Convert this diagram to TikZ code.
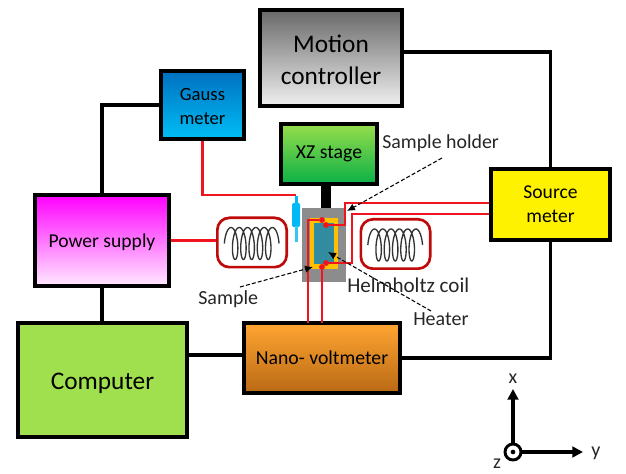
\documentclass[tikz,border=0pt]{standalone}
\usepackage{fontspec}
\setmainfont{Carlito}
\usetikzlibrary{arrows.meta,calc}
\definecolor{rd}{RGB}{240,20,30}
\definecolor{coilred}{RGB}{192,10,10}
\definecolor{gtop}{RGB}{105,105,105}
\definecolor{gbot}{RGB}{240,240,240}
\definecolor{stop}{RGB}{150,222,75}
\definecolor{sbot}{RGB}{10,176,70}
\definecolor{btop}{RGB}{0,112,192}
\definecolor{bbot}{RGB}{0,190,245}
\definecolor{mtop}{RGB}{255,0,255}
\definecolor{mmid}{RGB}{255,70,255}
\definecolor{mbot}{RGB}{255,235,255}
\definecolor{otop}{RGB}{255,165,50}
\definecolor{obot}{RGB}{185,105,20}
\definecolor{comp}{RGB}{160,224,78}
\definecolor{gold}{RGB}{255,192,0}
\definecolor{teal2}{RGB}{50,140,160}
\definecolor{probec}{RGB}{0,185,245}
\def\u{0.75pt}
\tikzset{
  px/.style={x=0.75pt,y=-0.75pt},
  box/.style={draw=black,line width=2.3pt,inner sep=0pt,align=center},
  wire/.style={draw=black,line width=2.3pt},
  redw/.style={draw=rd,line width=1.9pt},
  dot/.style={circle,fill=rd,inner sep=0pt,minimum size=4.4pt},
  coilbox/.style={draw=coilred,line width=2pt,rounded corners=9pt,inner sep=0pt,minimum width=52pt,minimum height=37pt},
  coilline/.style={draw=black!80,line width=1pt},
  lead/.style={draw=black,line width=0.8pt,dash pattern=on 3pt off 1.6pt,-{Latex[length=6pt,width=5.5pt]}},
  lbl/.style={inner sep=0pt,text=black!85},
  axis/.style={draw=black,line width=2.3pt,-{Triangle[length=8pt,width=8pt]}}
}
\begin{document}
\begin{tikzpicture}[px]
\useasboundingbox (0,0) rectangle (626,474);
% boxes
\node[box,top color=gtop,bottom color=gbot,minimum width=142*\u,minimum height=96*\u,font=\fontsize{19pt}{24pt}\selectfont] (motion) at (331,58) {\rule{0pt}{16pt}Motion\\controller};
\node[box,top color=stop,bottom color=sbot,minimum width=96*\u,minimum height=60*\u,font=\fontsize{14.8pt}{17pt}\selectfont] (stage) at (329,154) {XZ stage};
\node[box,top color=btop,bottom color=bbot,minimum width=83*\u,minimum height=68*\u,font=\fontsize{14pt}{18pt}\selectfont] (gauss) at (202.5,105) {\rule{0pt}{12pt}Gauss\\meter};
\node[box,fill=yellow,minimum width=119*\u,minimum height=71*\u,font=\fontsize{14.7pt}{18pt}\selectfont] (source) at (550.5,204.5) {Source\\meter};
\node[box,top color=mtop,middle color=mmid,bottom color=mbot,minimum width=134*\u,minimum height=91*\u,font=\fontsize{14.7pt}{17pt}\selectfont] (power) at (102,240.5) {\rule{0pt}{13pt}Power supply};
\node[box,fill=comp,minimum width=169*\u,minimum height=114*\u,font=\fontsize{19pt}{23pt}\selectfont] (computer) at (102.5,380) {\rule{0pt}{17pt}Computer};
\node[box,top color=otop,bottom color=obot,minimum width=156*\u,minimum height=70*\u,font=\fontsize{14.8pt}{17pt}\selectfont] (nano) at (322,358) {Nano- voltmeter};
% black wires
\coordinate (mc) at ($(motion.east)+(0,-6)$);
\coordinate (cn) at (computer.east|-0,355);
\coordinate (nc) at (nano.west|-0,355);
\draw[wire] (gauss.west) -| (power.north);
\draw[wire] (power.south) -- (computer.north-|power.south);
\draw[wire] (cn) -- (nc);
\draw[wire] (nano.east) -| (source.south);
\draw[wire] (source.north) |- (mc);
\coordinate (st) at (326,184);
\draw[draw=black,line width=7.5pt] (st) -- (326,209);
% coil boxes
\node[coilbox] (coilL) at (252,242.5) {};
\node[coilbox] (coilR) at (395.5,244) {};
\foreach \c in {coilL,coilR}{
  \draw[coilline,shift={(\c.center)}] plot[smooth,samples=220,domain=-90:1890] ({-21+0.023*\x+4.6*sin(\x)},{1-16*cos(\x)});
}
% sample assembly
\node[fill=black!45,minimum width=44*\u,minimum height=74*\u,inner sep=0pt] (holder) at (324,245) {};
\node[fill=gold,minimum width=28*\u,minimum height=51*\u,inner sep=0pt] (sample) at (324,243.5) {};
\node[fill=teal2,minimum width=20*\u,minimum height=41*\u,inner sep=0pt] (heater) at (324,243.5) {};
% probe
\node[fill=probec,minimum width=8*\u,minimum height=24*\u,rounded corners=1pt,inner sep=0pt] (probe) at (296,215) {};
\fill[probec] (294.5,196) rectangle (297.5,204);
\fill[probec!80!white] (294.5,226) rectangle (297.5,242);
% gauss red wire
\coordinate (pt) at (296,195);
\draw[redw] (gauss.south) |- (pt);
\draw[redw] (power.east) -- (coilL.west|-power.east);
% dots
\node[dot] (d1) at (322,220) {};
\node[dot] (d2) at (326,225) {};
\node[dot] (d3) at (326,263) {};
\node[dot] (d4) at (322,267) {};
% source red wires
\coordinate (s1) at (source.west|-0,203);
\coordinate (s2) at (source.west|-0,214);
\draw[redw] (s1) -- (345,203) |- (d2);
\draw[redw] (s2) -- (352,214) |- (d3);
\coordinate (n1) at (308,323);
\coordinate (n2) at (322,323);
\draw[redw] (n1) |- (d1);
\draw[redw] (n2) -- (d4);
% labels
\node[lbl,anchor=west,font=\fontsize{14.9pt}{17pt}\selectfont] (tholder) at (382,143) {Sample holder};
\node[lbl,anchor=west,font=\fontsize{15.8pt}{18pt}\selectfont] (thelm) at (347,285) {Helmholtz coil};
\node[lbl,anchor=west,font=\fontsize{15pt}{17pt}\selectfont] (theat) at (413,319) {Heater};
\node[lbl,anchor=west,font=\fontsize{15pt}{17pt}\selectfont] (tsamp) at (198,299) {Sample};
% leader arrows
\coordinate (a1) at (442,158);
\coordinate (a1e) at (347,211);
\coordinate (a2) at (240,287);
\coordinate (a2e) at (313,267);
\coordinate (a3) at (431,311);
\coordinate (a3e) at (328,252);
\draw[lead] (a1) -- (a1e);
\draw[lead] (a2) -- (a2e);
\draw[lead] (a3) -- (a3e);
% axes
\node[circle,draw=black,line width=2.2pt,minimum size=12pt,inner sep=0pt] (origin) at (513,452) {};
\node[circle,fill=black,minimum size=3.5pt,inner sep=0pt] (odot) at (513,452) {};
\coordinate (xt) at (513,389);
\coordinate (yt) at (583,452);
\draw[axis] (origin) -- (xt);
\draw[axis] (origin) -- (yt);
\node[lbl,font=\fontsize{15pt}{17pt}\selectfont] (xl) at (513,379) {x};
\node[lbl,font=\fontsize{15pt}{17pt}\selectfont] (yl) at (596,453) {y};
\node[lbl,font=\fontsize{15pt}{17pt}\selectfont] (zl) at (497,464) {z};
\end{tikzpicture}
\end{document}
